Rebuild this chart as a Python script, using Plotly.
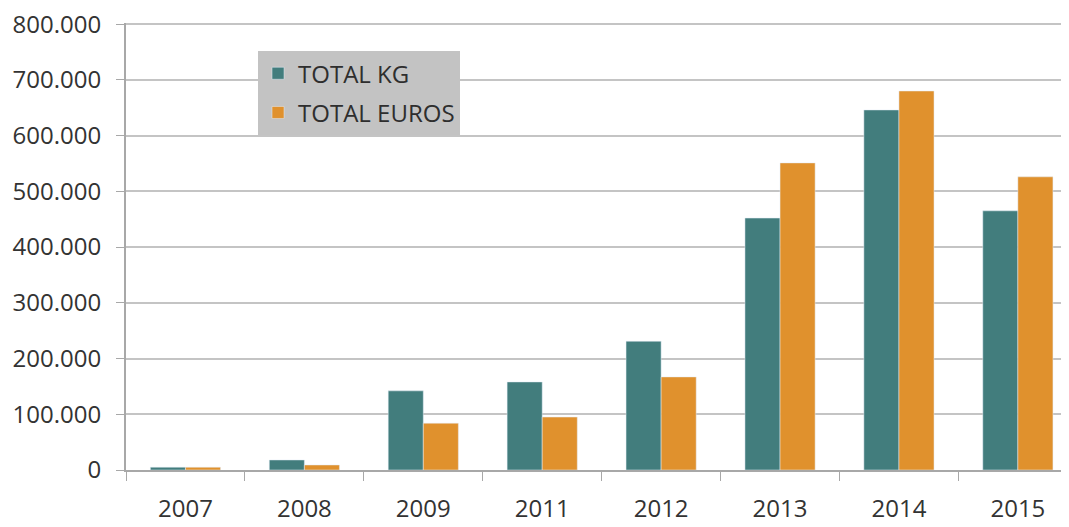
import plotly.graph_objects as go

years = ["2007", "2008", "2009", "2011", "2012", "2013", "2014", "2015"]
total_kg = [5000, 18000, 142000, 158000, 231000, 452000, 646000, 465000]
total_euros = [5000, 9000, 84000, 95000, 167000, 551000, 680000, 526000]
y_ticks = [0, 100000, 200000, 300000, 400000, 500000, 600000, 700000, 800000]

fig = go.Figure()
fig.add_trace(go.Bar(x=years, y=total_kg, name="TOTAL KG", marker_color="#427D7D",
                     legendgroup="a"))
fig.add_trace(go.Bar(x=years, y=total_euros, name="TOTAL EUROS", marker_color="#E0912D",
                     legendgroup="b"))

fig.update_layout(
    width=1061, height=519,
    margin=dict(l=118, r=0, t=15, b=57, autoexpand=False),
    paper_bgcolor="white", plot_bgcolor="white",
    separators=",.",
    barmode="group", bargap=0.41, bargroupgap=0,
    font=dict(family="Open Sans", color="#333333"),
    showlegend=True,
    legend=dict(x=0.14, y=0.937, xanchor="left", yanchor="top",
                bgcolor="#C3C3C3", font=dict(size=24, color="#2E2E2E"),
                traceorder="grouped", tracegroupgap=5),
    xaxis=dict(type="category", range=[-0.5, 7.43], showgrid=False, automargin=False,
               showline=True, linecolor="#A8A8A8", linewidth=2,
               ticks="outside", tickson="boundaries", ticklen=9, tickcolor="#A8A8A8",
               tickwidth=1, tickfont=dict(size=24), ticklabelstandoff=16,
               ticklabeloverflow="allow"),
    yaxis=dict(range=[0, 802000], tickvals=y_ticks, tickformat=",d", automargin=False,
               showgrid=True, gridcolor="#C4C4C4", gridwidth=2,
               showline=True, linecolor="#A8A8A8", linewidth=2,
               ticks="outside", ticklen=8, tickcolor="#A8A8A8", tickwidth=1,
               tickfont=dict(size=24), ticklabelstandoff=10, zeroline=False,
               ticklabeloverflow="allow"),
)

fig.write_html("out.html")
